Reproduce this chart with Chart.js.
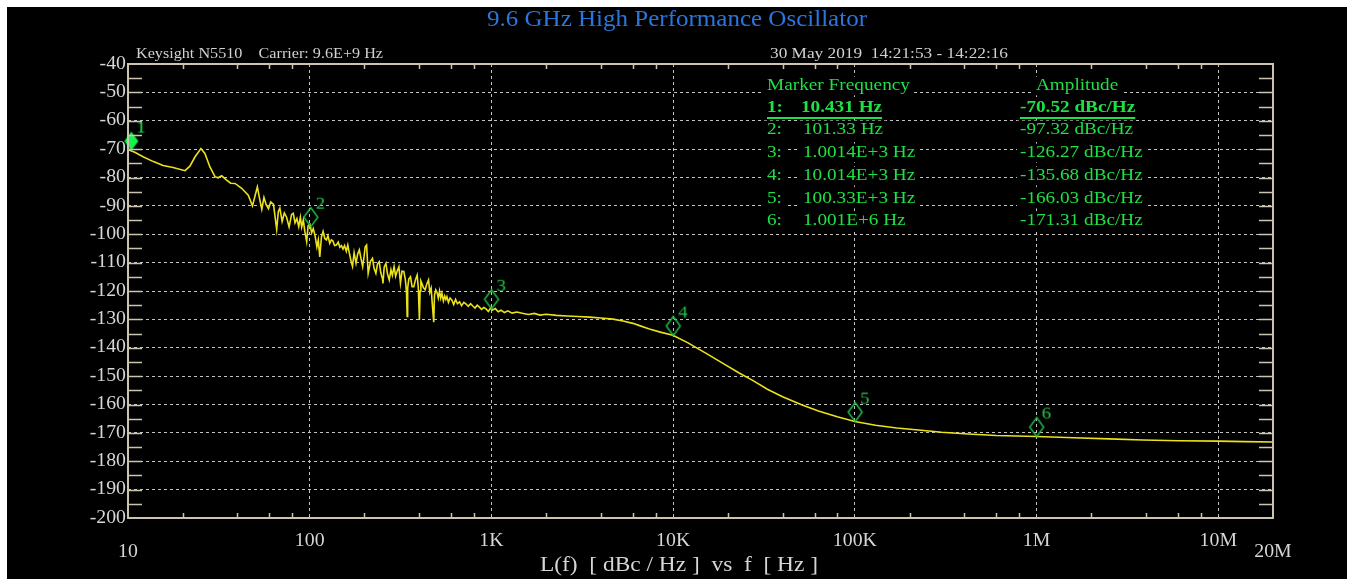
<!DOCTYPE html>
<html>
<head>
<meta charset="utf-8">
<title>9.6 GHz High Performance Oscillator</title>
<script src="https://cdn.jsdelivr.net/npm/chart.js@4.4.1/dist/chart.umd.min.js"></script>
<style>
  html, body { margin: 0; padding: 0; background: #fff; overflow: hidden; }
  #wrap { position: absolute; left: 0; top: 0; width: 1354px; height: 579px; }
</style>
</head>
<body>
<div id="wrap"><canvas id="pn"></canvas></div>
<script>
// offset frequency [Hz] and single sideband phase noise [dBc/Hz]
const freqHz = [
  10, 10.9, 12.1, 13.8, 15.6, 17.7, 20.6, 21.9, 23.4, 25.2, 26.5, 28.2, 30.1, 31.3, 32.8, 34.9,
  36.7, 38.8, 42.2, 45.9, 48.4, 50.0, 51.5, 53.0, 54.5, 56.0, 57.5, 59.3, 61.0, 63.2, 65.8, 67.2,
  68.5, 70.5, 72.5, 74.6, 77.0, 79.5, 81.2, 83.0, 85.0, 87.0, 88.8, 90.3, 92.2, 94.0, 96.2, 98.0,
  100.3, 102.5, 104.6, 107.0, 109.5, 111.5, 113.6, 116.0, 118.5, 121.0, 123.6, 126.0, 128.9, 131.5,
  134.0, 137.0, 140.2, 143.5, 146.5, 149.5, 152.5, 155.5, 159.0, 162.0, 165.0, 168.9, 172.0, 175.5,
  179.8, 183.5, 187.5, 191.5, 195.6, 199.0, 202.0, 205.6, 209.7, 212.4, 216.0, 221.6, 226.0, 231.3,
  236.0, 241.3, 246.0, 251.7, 253.0, 257.0, 262.6, 268.0, 274.0, 280.0, 285.0, 291.3, 297.0, 303.0,
  309.6, 315.7, 322.0, 329.4, 336.0, 341.0, 343.7, 346.0, 351.0, 358.5, 366.0, 374.0, 382.0, 390.2,
  396.0, 401.4, 405.0, 409.0, 414.0, 422.0, 431.9, 441.0, 450.6, 458.0, 466.0, 472.0, 481.3, 486.0,
  494.0, 502.0, 510.0, 518.0, 526.0, 534.0, 544.0, 553.0, 561.0, 568.9, 580.0, 592.0, 606.0, 620.0,
  635.0, 650.0, 668.0, 685.0, 705.0, 726.2, 745.0, 768.0, 789.8, 812.0, 835.0, 858.8, 883.0, 908.0,
  934.0, 962.0, 990.0, 1015, 1050, 1090, 1130, 1180, 1230, 1300, 1380, 1497, 1600, 1720, 1850, 2000,
  2281, 2600, 3000, 3479, 4000, 4667, 5300, 6000, 6535, 7400, 8500, 9966, 12000, 15200, 19000, 23200,
  27400, 33000, 40000, 51300, 63000, 80000, 100000, 130000, 170000, 224000, 300000, 420000, 600000,
  1000000, 1600000, 2500000, 3850000, 6000000, 10000000, 14000000, 20000000
];
const noiseDbc = [
  -70.2, -71.1, -72.7, -74.4, -75.8, -76.5, -77.6, -76.0, -72.7, -69.8, -71.5, -76.2, -79.7, -80.1, -79.4, -80.9,
  -82.0, -82.1, -83.8, -86.2, -90.0, -86.5, -83.3, -87.5, -91.2, -87.0, -89.5, -91.0, -88.6, -89.5, -98.3, -92.0,
  -90.8, -95.5, -92.5, -94.0, -97.4, -93.0, -92.6, -96.0, -94.5, -97.3, -94.0, -97.5, -95.0, -99.0, -102.6, -97.0,
  -96.5, -99.5, -98.0, -100.5, -104.5, -102.0, -108.0, -101.0, -99.0, -101.5, -102.0, -100.5, -103.2, -102.0,
  -102.3, -104.0, -103.8, -102.8, -104.6, -104.0, -105.2, -104.0, -106.0, -103.8, -106.5, -109.5, -111.3, -106.5,
  -110.2, -107.0, -105.5, -108.5, -111.4, -108.0, -104.4, -103.8, -113.8, -112.0, -109.5, -108.5, -112.0, -113.8,
  -110.5, -109.7, -113.5, -115.8, -117.3, -111.5, -110.3, -114.0, -116.1, -112.5, -114.5, -111.4, -114.8, -113.0,
  -111.5, -117.3, -113.0, -113.1, -116.0, -120.5, -129.0, -119.0, -115.8, -115.0, -118.5, -118.5, -116.0, -114.4,
  -119.0, -130.2, -120.0, -116.5, -117.3, -118.8, -119.6, -117.5, -116.1, -120.5, -119.0, -124.0, -131.0, -121.5,
  -119.6, -120.5, -122.5, -120.0, -122.5, -120.8, -123.5, -121.8, -123.0, -122.0, -124.0, -122.5, -123.2, -124.8,
  -123.0, -124.5, -123.8, -125.2, -124.0, -124.6, -125.4, -124.5, -125.3, -126.0, -125.0, -125.7, -126.5, -125.8,
  -126.3, -127.2, -126.0, -126.7, -126.2, -127.3, -126.8, -127.6, -127.0, -127.8, -127.4, -127.9, -128.3, -127.9, -128.5, -128.2,
  -128.6, -128.8, -129.0, -129.2, -129.5, -129.9, -130.6, -131.4, -132.2, -133.4, -134.5, -135.6, -138.2, -142.0, -145.7, -149.0,
  -151.5, -154.6, -157.3, -160.2, -162.3, -164.3, -166.0, -167.3, -168.3, -169.0, -169.8, -170.4, -170.9,
  -171.3, -171.7, -172.1, -172.5, -172.8, -172.9, -173.1, -173.2
];

// marker table
const markerFreq = [10.431, 101.33, 1001.4, 10014, 100330, 1001000];
const markerAmp = [-70.52, -97.32, -126.27, -135.68, -166.03, -171.31];
const markerFreqText = ['10.431 Hz', '101.33 Hz', '1.0014E+3 Hz', '10.014E+3 Hz', '100.33E+3 Hz', '1.001E+6 Hz'];
const markerAmpText = ['-70.52 dBc/Hz', '-97.32 dBc/Hz', '-126.27 dBc/Hz', '-135.68 dBc/Hz', '-166.03 dBc/Hz', '-171.31 dBc/Hz'];

// axes
const xDecades = [10, 100, 1e3, 1e4, 1e5, 1e6, 1e7];
const xLabelValues = [10, 100, 1e3, 1e4, 1e5, 1e6, 1e7, 2e7];
const xLabelText = ['10', '100', '1K', '10K', '100K', '1M', '10M', '20M'];
const xMinorSteps = [2, 4, 6, 8];
const yMin = -200, yMax = -40, yStep = 10, yMinorStep = 5;

const titleText = '9.6 GHz High Performance Oscillator';
const headLeft = 'Keysight N5510    Carrier: 9.6E+9 Hz';
const headRight = '30 May 2019  14:21:53 - 14:22:16';
const axisTitle = 'L(f)  [ dBc / Hz ]  vs  f  [ Hz ]';

const SERIF = '"Liberation Serif", "Times New Roman", serif';
const FRAME = '#cbc4ae';
const GREEN = '#1fe044';
const LABEL = '#d6d6d6';

// text on the analyzer screen is a bit wider than plain Times
function txt(ctx, s, x, y, o) {
    ctx.save();
    ctx.font = (o.bold ? 'bold ' : '') + o.size + 'px ' + SERIF;
    const w = ctx.measureText(s).width;
    const sx = o.width ? o.width / w : (o.sx || 1.13);
    const sw = w * sx;
    let left = x;
    if (o.align === 'center') left = x - sw / 2;
    else if (o.align === 'right') left = x - sw;
    if (o.bg) {
        ctx.fillStyle = o.bg;
        ctx.fillRect(left - 3, y - o.size * 0.55, sw + 6, o.size * 1.1);
    }
    ctx.translate(left, y);
    ctx.scale(sx, 1);
    ctx.fillStyle = o.color;
    ctx.textBaseline = 'middle';
    ctx.textAlign = 'left';
    ctx.fillText(s, 0, 0);
    ctx.restore();
    return { left: left, right: left + sw };
}

// diamond marker with its number, canvas centre = point on the trace
function markerIcon(n, filled) {
    const c = document.createElement('canvas');
    c.width = 48; c.height = 72;
    const g = c.getContext('2d');
    const cx = 24, by = 36;
    g.beginPath();
    g.moveTo(cx, by);
    g.lineTo(cx - 7, by - 9.5);
    g.lineTo(cx, by - 19);
    g.lineTo(cx + 7, by - 9.5);
    g.closePath();
    if (filled) {
        g.fillStyle = '#16f24e';
        g.fill();
    } else {
        g.strokeStyle = '#20c44a';
        g.lineWidth = 1.4;
        g.stroke();
    }
    g.save();
    g.font = '17px ' + SERIF;
    g.fillStyle = filled ? '#16f24e' : '#22c84c';
    g.textBaseline = 'middle';
    g.translate(cx + 5, by - 22);
    g.scale(1.1, 1);
    g.fillText(String(n), 0, 0);
    g.restore();
    return c;
}

const screenPlugin = {
    id: 'screen',
    beforeDraw(chart) {
        const ctx = chart.ctx;
        ctx.save();
        ctx.fillStyle = '#fff';
        ctx.fillRect(0, 0, chart.width, chart.height);
        ctx.fillStyle = '#000';
        ctx.fillRect(7, 7, chart.width - 14, chart.height - 7);
        ctx.restore();
    },
    afterDraw(chart) {
        const ctx = chart.ctx;
        const a = chart.chartArea;
        const xs = chart.scales.x, ys = chart.scales.y;

        // frame and inward ticks
        ctx.save();
        ctx.strokeStyle = FRAME;
        ctx.lineWidth = 1.5;
        ctx.beginPath();
        xDecades.forEach(d => {
            xMinorSteps.forEach(m => {
                const v = d * m;
                if (v >= 2e7) return;
                const px = Math.round(xs.getPixelForValue(v)) + 0.5;
                ctx.moveTo(px, a.bottom); ctx.lineTo(px, a.bottom - 5);
                ctx.moveTo(px, a.top); ctx.lineTo(px, a.top + 5);
            });
        });
        for (let v = yMin + yMinorStep; v < yMax; v += yMinorStep) {
            const py = Math.round(ys.getPixelForValue(v)) + 0.5;
            ctx.moveTo(a.left, py); ctx.lineTo(a.left + 14, py);
            ctx.moveTo(a.right, py); ctx.lineTo(a.right - 14, py);
        }
        ctx.stroke();
        ctx.lineWidth = 2;
        ctx.strokeRect(a.left, a.top, a.right - a.left, a.bottom - a.top);
        ctx.restore();

        // y labels
        for (let v = yMax; v >= yMin; v -= yStep) {
            txt(ctx, String(v), a.left - 2, ys.getPixelForValue(v), { size: 18, color: LABEL, align: 'right', sx: 1.1 });
        }
        // x labels, the two end labels sit lower
        xLabelValues.forEach((v, i) => {
            const low = (i === 0 || i === xLabelValues.length - 1);
            txt(ctx, xLabelText[i], xs.getPixelForValue(v), a.bottom + (low ? 34 : 23), { size: 18, color: LABEL, align: 'center', sx: 1.1 });
        });
        txt(ctx, axisTitle, 679, 566, { size: 20, color: LABEL, align: 'center', width: 278 });

        // title and header lines
        txt(ctx, titleText, 677, 20, { size: 23, color: '#2a76de', align: 'center', width: 380 });
        txt(ctx, headLeft, 136, 54, { size: 14, color: '#d2d2d2', width: 247 });
        txt(ctx, headRight, 770, 54, { size: 14, color: '#d2d2d2', width: 238 });

        // marker table
        const rowY = [108, 130, 153, 176, 199, 221];
        txt(ctx, 'Marker Frequency', 767, 86, { size: 17, color: GREEN, width: 143, bg: '#000' });
        txt(ctx, 'Amplitude', 1036, 86, { size: 17, color: GREEN, sx: 1.13, bg: '#000' });
        markerFreqText.forEach((s, i) => {
            const bold = i === 0;
            const o = { size: 17, color: GREEN, sx: 1.13, bg: '#000', bold: bold };
            const n = txt(ctx, (i + 1) + ':', 767, rowY[i], o);
            const f = txt(ctx, s, bold ? 801 : 803, rowY[i], o);
            const am = txt(ctx, markerAmpText[i], 1020, rowY[i], o);
            if (bold) {
                ctx.save();
                ctx.fillStyle = GREEN;
                ctx.fillRect(n.left, rowY[i] + 9, f.right - n.left, 2);
                ctx.fillRect(am.left, rowY[i] + 9, am.right - am.left, 2);
                ctx.restore();
            }
        });
    }
};

const trace = freqHz.map((f, i) => ({ x: f, y: noiseDbc[i] }));
const markers = markerFreq.map((f, i) => ({ x: f, y: markerAmp[i] }));
const markerIcons = markerFreq.map((f, i) => markerIcon(i + 1, i === 0));

const gridOpts = { color: '#c4c4c4', lineWidth: 1, drawTicks: false };

new Chart(document.getElementById('pn').getContext('2d'), {
    type: 'line',
    data: {
        datasets: [{
            label: 'Markers',
            data: markers,
            showLine: false,
            pointStyle: markerIcons,
            pointRadius: 5,
            clip: false,
            order: 1
        }, {
            label: 'L(f)',
            data: trace,
            borderColor: '#ebe21a',
            borderWidth: 1.6,
            pointRadius: 0,
            tension: 0,
            order: 2
        }]
    },
    options: {
        responsive: true,
        maintainAspectRatio: false,
        animation: false,
        events: [],
        layout: { padding: { left: 128, right: 81, top: 64, bottom: 61 } },
        plugins: { legend: { display: false }, tooltip: { enabled: false }, title: { display: false } },
        scales: {
            x: {
                type: 'logarithmic',
                min: 10,
                max: 2e7,
                afterBuildTicks: s => { s.ticks = xDecades.map(v => ({ value: v })); },
                ticks: { display: false },
                grid: gridOpts,
                border: { display: false, dash: [3, 3] }
            },
            y: {
                min: yMin,
                max: yMax,
                ticks: { display: false, stepSize: yStep },
                grid: gridOpts,
                border: { display: false, dash: [3, 3] }
            }
        }
    },
    plugins: [screenPlugin]
});
</script>
</body>
</html>
